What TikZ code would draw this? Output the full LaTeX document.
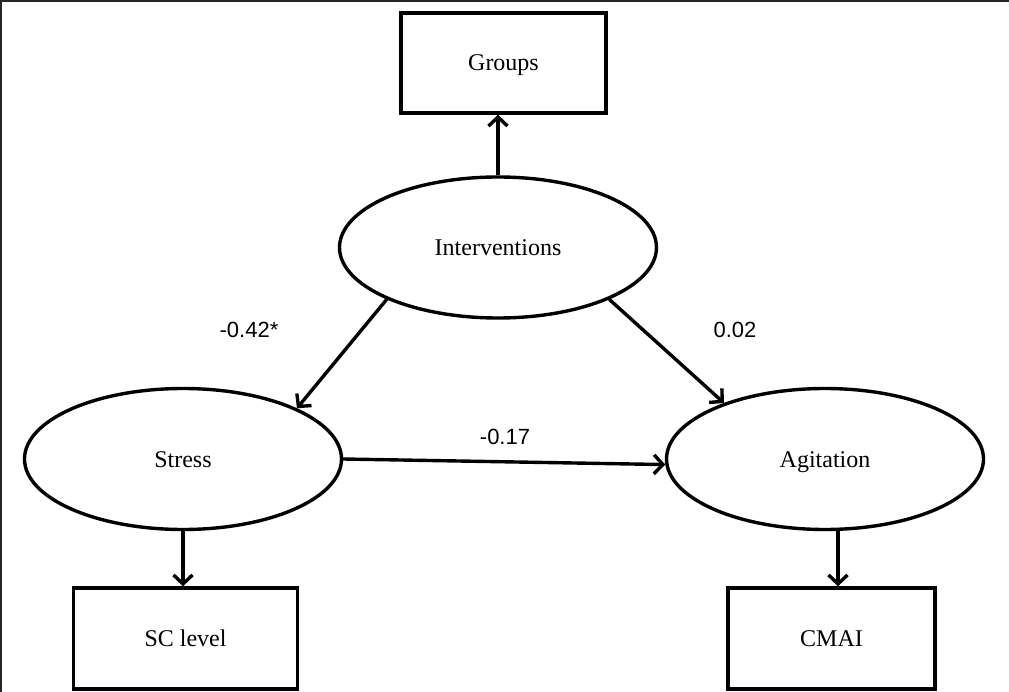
\documentclass[tikz,border=0pt]{standalone}
\usepackage{fontspec}
\setmainfont{Liberation Serif}
\newfontfamily\labelfont{Liberation Sans}
\usetikzlibrary{shapes.geometric,arrows.meta}
\begin{document}
\begin{tikzpicture}[x=1pt,y=-1pt,
  every node/.style={font=\fontsize{24}{28}\selectfont},
  latent/.style={draw,ellipse,line width=3.4pt,inner sep=0pt,text height=18pt,text depth=2pt,minimum width=317pt,minimum height=141pt},
  measure/.style={draw,rectangle,line width=3.4pt,inner sep=0pt,text height=18pt,text depth=2pt},
  arr/.style={line width=3.4pt,-{Straight Barb[length=9pt,width=19pt,line width=3.4pt]}},
  coef/.style={font=\labelfont\fontsize{22}{26}\selectfont}]
\useasboundingbox (0,0) rectangle (1009,692);
% frame
\draw[line width=2.5pt,black!85] (1.2,700) -- (1.2,1.2) -- (1015,1.2);
% nodes
\node[measure,minimum width=205pt,minimum height=100pt] (G) at (503.5,63) {Groups};
\node[latent] (I) at (498,247.5) {Interventions};
\node[latent] (S) at (183,459) {Stress};
\node[latent] (A) at (825,459) {Agitation};
\node[measure,minimum width=224pt,minimum height=101pt] (SC) at (185.5,638.5) {SC level};
\node[measure,minimum width=207pt,minimum height=101pt] (CM) at (831.5,638.5) {CMAI};
% paths
\draw[arr] (I.north) -- (I.north |- G.south);
\draw[arr] (I.205) -- (S.24);
\draw[arr] (I.335) -- (A.151);
\draw[arr] (S.east) -- (A.182);
\draw[arr] (S.south) -- (S.south |- SC.north);
\draw[arr] ([xshift=13pt]A.south) -- ([xshift=13pt]A.south |- CM.north);
% coefficients
\node[coef] (c1) at (249,330) {-0.42*};
\node[coef] (c2) at (735,330) {0.02};
\node[coef] (c3) at (505,437) {-0.17};
\end{tikzpicture}
\end{document}
